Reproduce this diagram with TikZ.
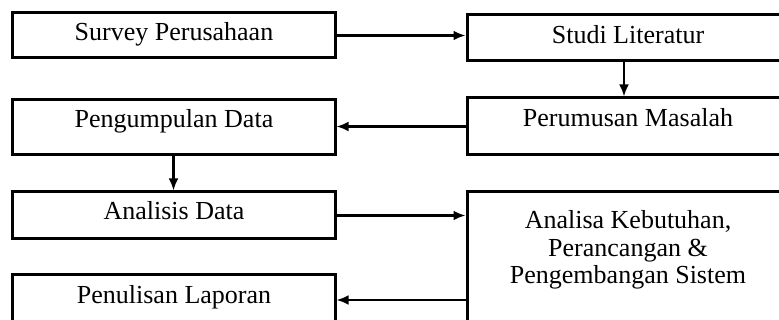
\documentclass[tikz,border=0pt]{standalone}
\usepackage{fontspec}
\setmainfont{Liberation Serif}
\usetikzlibrary{arrows.meta}
\begin{document}
\begin{tikzpicture}[x=1pt,y=-1pt,
  box/.style={draw=black,line width=3pt,rectangle,inner sep=0pt},
  lbl/.style={inner sep=0pt,anchor=base,font=\fontsize{26}{27.5}\selectfont,align=center},
  arr/.style={line width=2.4pt,-{Latex[length=12pt,width=10pt]}}]
\useasboundingbox (0,0) rectangle (779,320);
\clip (0,0) rectangle (779,320);
\fill[white] (0,0) rectangle (779,320);
% left column boxes
\node[box,minimum width=323pt,minimum height=45pt] (sv) at (173.5,35.5) {};
\node[box,minimum width=323pt,minimum height=55pt] (pd) at (173.5,127.5) {};
\node[box,minimum width=323pt,minimum height=47pt] (ad) at (173.5,215.5) {};
\node[box,minimum width=323pt,minimum height=50pt] (pl) at (173.5,300) {};
% right column boxes
\node[box,minimum width=314pt,minimum height=46pt] (sl) at (624,38) {};
\node[box,minimum width=314pt,minimum height=57pt] (pm) at (624,126.5) {};
\node[box,minimum width=314pt,minimum height=148pt] (an) at (624,266) {};
% texts
\node[lbl] (tsv) at (174,41) {Survey Perusahaan};
\node[lbl] (tpd) at (174,128) {Pengumpulan Data};
\node[lbl] (tad) at (174,220) {Analisis Data};
\node[lbl] (tpl) at (174,304) {Penulisan Laporan};
\node[lbl] (tsl) at (628,44) {Studi Literatur};
\node[lbl] (tpm) at (628,127) {Perumusan Masalah};
\node[lbl] (tan1) at (628,229) {Analisa Kebutuhan,};
\node[lbl] (tan2) at (628,256.5) {Perancangan \&};
\node[lbl] (tan3) at (628,284) {Pengembangan Sistem};
% connectors
\draw[arr] (sv.east) -- (sv.east -| sl.west);
\draw[arr] (sl.south) -- (pm.north);
\draw[arr] (pm.west) -- (pm.west -| pd.east);
\draw[arr] (pd.south) -- (ad.north);
\draw[arr] (ad.east) -- (ad.east -| an.west);
\draw[arr] (pl.east -| an.west) -- (pl.east);
\end{tikzpicture}
\end{document}
